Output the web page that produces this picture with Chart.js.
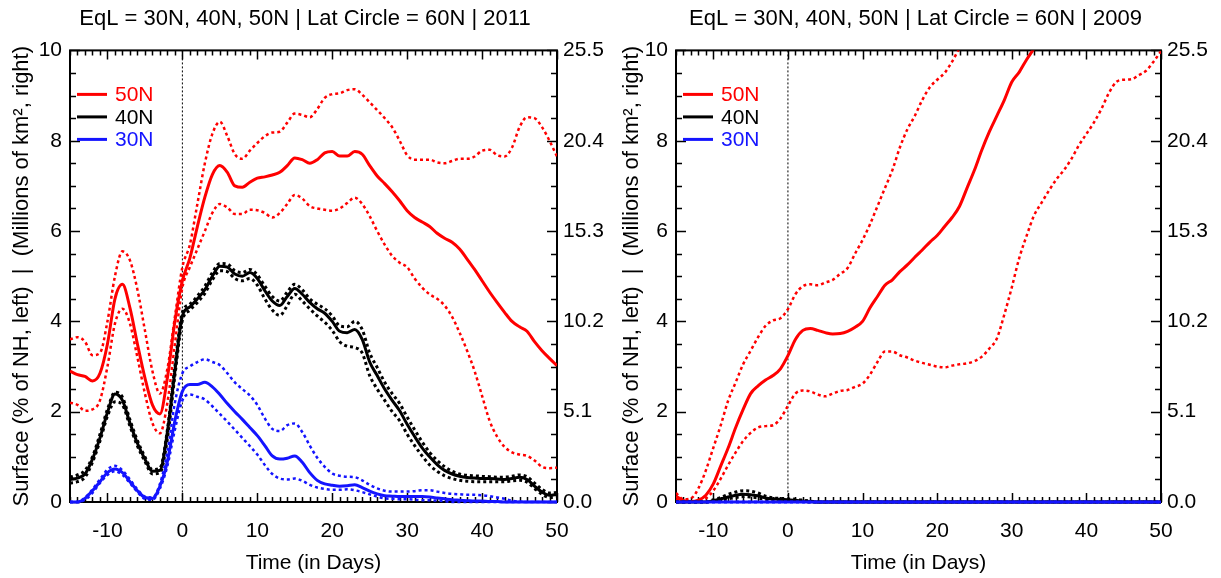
<!DOCTYPE html>
<html>
<head>
<meta charset="utf-8">
<title>EqL surface 2011 / 2009</title>
<script src="https://cdn.jsdelivr.net/npm/chart.js@4.4.1/dist/chart.umd.min.js"></script>
<style>
	body { margin:0; background:#fff; }
	#wrap { position:relative; width:1221px; height:578px; }
	canvas { position:absolute; top:0; }
</style>
</head>
<body>
<div id="wrap">
	<canvas id="chart_2011" width="610" height="578" style="left:0px"></canvas>
	<canvas id="chart_2009" width="611" height="578" style="left:610px"></canvas>
</div>
<script>
// eje x: dias (-15 .. 50)
var days = [-15,-14,-13,-12,-11,-10,-9,-8,-7,-6,-5,-4,-3,-2,-1,0,
	1,2,3,4,5,6,7,8,9,10,11,12,13,14,15,16,17,18,19,20,
	21,22,23,24,25,26,27,28,29,30,31,32,33,34,35,36,37,38,39,40,
	41,42,43,44,45,46,47,48,49,50];

var xTicks = [-10, 0, 10, 20, 30, 40, 50];
var leftTicks = [0, 2, 4, 6, 8, 10];
var rightTicks = [0, 5.1, 10.2, 15.3, 20.4, 25.5];

var latLabels = ['50N', '40N', '30N'];
var latColors = ['#ff0000', '#000000', '#1414ff'];

// ---- 2011 ----
var r11Mid = [2.9,2.82,2.78,2.68,2.85,3.5,4.5,4.82,4.3,3.5,2.75,2.15,1.95,2.75,4.0,4.9,
	5.4,6.1,6.75,7.25,7.45,7.3,7.0,6.97,7.08,7.17,7.2,7.24,7.3,7.45,7.62,7.58,7.5,7.58,7.73,7.76,
	7.66,7.66,7.76,7.7,7.45,7.22,7.05,6.87,6.67,6.45,6.3,6.2,6.1,5.95,5.84,5.75,5.6,5.38,5.15,4.9,
	4.65,4.42,4.2,4.0,3.88,3.78,3.55,3.35,3.18,3.02];
var r11Hi = [3.6,3.65,3.55,3.25,3.3,4.0,5.0,5.55,5.35,4.7,3.8,2.9,2.4,2.95,4.1,5.2,
	5.7,6.6,7.5,8.15,8.42,8.1,7.7,7.6,7.78,7.95,8.1,8.18,8.2,8.4,8.6,8.57,8.52,8.7,8.95,9.03,
	9.05,9.12,9.14,9.02,8.85,8.68,8.5,8.3,8.0,7.68,7.58,7.58,7.58,7.52,7.5,7.55,7.6,7.6,7.65,7.78,
	7.8,7.68,7.65,7.85,8.3,8.52,8.5,8.3,8.0,7.65];
var r11Lo = [2.2,2.15,2.02,2.05,2.25,3.0,3.95,4.28,3.95,3.2,2.4,1.75,1.52,2.2,3.5,4.75,
	5.2,5.6,6.0,6.4,6.6,6.52,6.38,6.38,6.47,6.46,6.4,6.3,6.4,6.6,6.8,6.72,6.55,6.5,6.47,6.45,
	6.5,6.62,6.74,6.6,6.33,6.0,5.7,5.45,5.3,5.2,4.95,4.75,4.6,4.5,4.35,4.1,3.75,3.35,2.9,2.35,
	1.8,1.45,1.22,1.1,1.05,1.02,0.92,0.78,0.75,0.76];

var k11Mid = [0.5,0.53,0.62,0.95,1.42,1.98,2.39,2.25,1.75,1.3,0.95,0.68,0.7,1.55,2.9,4.12,
	4.32,4.5,4.7,5.0,5.22,5.2,5.05,5.0,5.08,4.95,4.68,4.45,4.35,4.55,4.73,4.6,4.42,4.28,4.18,4.0,
	3.78,3.75,3.82,3.6,3.1,2.8,2.5,2.25,2.02,1.72,1.45,1.2,1.0,0.83,0.7,0.62,0.57,0.54,0.53,0.52,
	0.52,0.51,0.5,0.52,0.55,0.5,0.35,0.22,0.15,0.17];
var k11Hi = [0.55,0.6,0.7,1.0,1.5,2.05,2.43,2.32,1.82,1.36,1.0,0.72,0.75,1.6,3.0,4.2,
	4.38,4.56,4.78,5.08,5.28,5.27,5.12,5.08,5.15,5.03,4.78,4.55,4.45,4.65,4.82,4.7,4.5,4.38,4.28,4.12,
	3.9,3.88,4.0,3.82,3.3,2.98,2.65,2.4,2.18,1.88,1.6,1.33,1.1,0.92,0.78,0.68,0.62,0.59,0.58,0.57,
	0.56,0.55,0.55,0.57,0.6,0.56,0.42,0.28,0.2,0.21];
var k11Lo = [0.42,0.45,0.55,0.88,1.35,1.9,2.22,2.15,1.68,1.24,0.9,0.62,0.65,1.4,2.8,4.02,
	4.25,4.42,4.62,4.92,5.12,5.1,4.95,4.9,4.95,4.8,4.5,4.25,4.13,4.35,4.6,4.45,4.28,4.12,3.98,3.8,
	3.55,3.45,3.42,3.3,2.8,2.5,2.25,2.0,1.8,1.5,1.25,1.02,0.82,0.68,0.58,0.52,0.48,0.46,0.45,0.45,
	0.45,0.45,0.45,0.47,0.48,0.44,0.3,0.17,0.1,0.12];

var b11Mid = [0,0,0.08,0.25,0.45,0.65,0.73,0.65,0.45,0.25,0.1,0.08,0.35,0.9,1.8,2.45,
	2.6,2.6,2.65,2.55,2.38,2.18,2.0,1.83,1.65,1.47,1.25,1.02,0.95,0.97,1.02,0.88,0.65,0.48,0.4,0.37,
	0.35,0.36,0.38,0.32,0.24,0.18,0.14,0.13,0.12,0.12,0.12,0.12,0.11,0.09,0.07,0.05,0.04,0.03,0.02,0.02,
	0.01,0.01,0,0,0,0,0,0,0,0];
var b11Hi = [0,0,0.1,0.28,0.5,0.72,0.8,0.7,0.5,0.28,0.12,0.1,0.4,1.1,2.2,2.85,
	3.0,3.1,3.16,3.1,3.03,2.85,2.65,2.5,2.36,2.15,1.85,1.62,1.57,1.7,1.74,1.55,1.25,0.98,0.78,0.63,
	0.58,0.56,0.55,0.48,0.38,0.3,0.25,0.23,0.23,0.23,0.24,0.26,0.26,0.23,0.2,0.18,0.17,0.16,0.16,0.15,
	0.13,0.1,0.07,0.03,0.01,0,0,0,0,0];
var b11Lo = [0,0,0.05,0.2,0.42,0.6,0.68,0.6,0.42,0.22,0.07,0.05,0.3,0.8,1.6,2.25,
	2.38,2.33,2.27,2.12,1.95,1.78,1.6,1.42,1.24,1.05,0.82,0.62,0.52,0.5,0.52,0.47,0.38,0.32,0.29,0.27,
	0.27,0.28,0.26,0.22,0.17,0.12,0.08,0.07,0.06,0.06,0.05,0.04,0.04,0.03,0.02,0,0,0,0,0,
	0,0,0,0,0,0,0,0,0,0];

// ---- 2009 ----
var r09Mid = [0.13,0.03,0.01,0.04,0.15,0.4,0.8,1.2,1.65,2.05,2.4,2.57,2.7,2.8,2.95,3.24,
	3.6,3.8,3.84,3.8,3.75,3.72,3.73,3.78,3.87,4.0,4.3,4.55,4.8,4.92,5.1,5.25,5.42,5.58,5.75,5.9,
	6.1,6.3,6.55,6.95,7.35,7.8,8.2,8.55,8.9,9.3,9.52,9.8,10.05,10.35,null,null,null,null,null,null,
	null,null,null,null,null,null,null,null,null,null];
var r09Hi = [0.2,0.06,0.08,0.3,0.7,1.2,1.7,2.25,2.65,3.05,3.35,3.65,3.9,4.02,4.07,4.27,
	4.6,4.78,4.82,4.8,4.86,4.92,5.05,5.18,5.5,5.8,6.15,6.55,6.95,7.35,7.85,8.25,8.55,8.9,9.18,9.35,
	9.5,9.75,10.05,10.3,null,null,null,null,null,null,null,null,null,null,null,null,null,null,null,null,
	null,null,null,null,null,null,null,null,null,null];
var r09Lo = [0.06,0.02,0,0.02,0.08,0.25,0.52,0.82,1.1,1.35,1.53,1.65,1.68,1.7,1.85,2.13,
	2.4,2.47,2.45,2.38,2.34,2.4,2.46,2.48,2.55,2.62,2.82,3.1,3.33,3.33,3.25,3.2,3.13,3.08,3.04,3.0,
	2.98,3.02,3.05,3.07,3.12,3.22,3.4,3.62,4.15,4.75,5.4,5.9,6.35,6.63,6.9,7.15,7.35,7.6,7.9,8.15,
	8.4,8.7,9.05,9.3,9.35,9.36,9.45,9.55,9.75,9.98];

var k09Mid = [0,0,0,0,0,0.03,0.07,0.11,0.15,0.17,0.16,0.14,0.09,0.07,0.06,0.05,
	0.04,0.02,0.01,0,0,0,0,0,0,0,0,0,0,0,0,0,0,0,0,0,
	0,0,0,0,0,0,0,0,0,0,0,0,0,0,0,0,0,0,0,0,
	0,0,0,0,0,0,0,0,0,0];
var k09Hi = [0,0,0,0,0,0.05,0.1,0.17,0.22,0.25,0.24,0.2,0.13,0.09,0.08,0.07,
	0.06,0.04,0.02,0,0,0,0,0,0,0,0,0,0,0,0,0,0,0,0,0,
	0,0,0,0,0,0,0,0,0,0,0,0,0,0,0,0,0,0,0,0,
	0,0,0,0,0,0,0,0,0,0];
var k09Lo = [0,0,0,0,0,0.02,0.04,0.07,0.1,0.12,0.11,0.09,0.06,0.05,0.04,0.03,
	0.02,0.01,0,0,0,0,0,0,0,0,0,0,0,0,0,0,0,0,0,0,
	0,0,0,0,0,0,0,0,0,0,0,0,0,0,0,0,0,0,0,0,
	0,0,0,0,0,0,0,0,0,0];
var b09Mid = [0,0,0,0,0,0,0,0,0,0,0,0,0,0,0,0,
	0,0,0,0,0,0,0,0,0,0,0,0,0,0,0,0,0,0,0,0,
	0,0,0,0,0,0,0,0,0,0,0,0,0,0,0,0,0,0,0,0,
	0,0,0,0,0,0,0,0,0,0];

Chart.defaults.font.family = "'Liberation Sans', Arial, Helvetica, sans-serif";
Chart.defaults.font.size = 21;
Chart.defaults.color = '#000';

function linea(vals, color, dotted) {
	return {
		data: vals.map(function(v, i){ return {x: days[i], y: v}; }),
		borderColor: color,
		borderWidth: dotted ? (color == '#000000' ? 3 : 2.5) : 3,
		borderDash: dotted ? [3, 3] : [],
		pointRadius: 0,
		fill: false,
		tension: 0.4,
		cubicInterpolationMode: 'monotone',
		spanGaps: false,
		yAxisID: 'yL',
		clip: {left: 0, top: 0, right: 0, bottom: 3}
	};
}

// marco y ticks hacia adentro (debajo de las lineas), punteada en el dia 0, leyenda arriba
var marcoPlugin = {
	id: 'marco',
	beforeDatasetsDraw: function(chart) {
		var ctx = chart.ctx, a = chart.chartArea;
		var sx = chart.scales.x, sy = chart.scales.yL;
		var x0 = sx.getPixelForValue(0);
		ctx.save();
		ctx.strokeStyle = '#000';
		ctx.lineWidth = 1;
		ctx.setLineDash([2, 2]);
		ctx.beginPath();
		ctx.moveTo(x0, a.top);
		ctx.lineTo(x0, a.bottom);
		ctx.stroke();
		ctx.setLineDash([]);

		ctx.lineWidth = 1.5;
		ctx.beginPath();
		for (var d = -15; d <= 50; d++) {
			var px = Math.round(sx.getPixelForValue(d)) + 0.5;
			var len = (d % 10 == 0) ? 9 : 5;
			ctx.moveTo(px, a.bottom); ctx.lineTo(px, a.bottom - len);
			ctx.moveTo(px, a.top); ctx.lineTo(px, a.top + len);
		}
		for (var v = 0; v <= 10; v += 0.5) {
			var py = Math.round(sy.getPixelForValue(v)) + 0.5;
			var l2 = (v % 2 == 0) ? 10 : 6;
			ctx.moveTo(a.left, py); ctx.lineTo(a.left + l2, py);
			ctx.moveTo(a.right, py); ctx.lineTo(a.right - l2, py);
		}
		ctx.stroke();
		ctx.lineWidth = 2;
		ctx.strokeRect(a.left, a.top, a.right - a.left, a.bottom - a.top);
		ctx.restore();
	},
	afterDraw: function(chart) {
		var ctx = chart.ctx, a = chart.chartArea;
		ctx.save();
		ctx.font = "21px 'Liberation Sans', Arial, sans-serif";
		ctx.textBaseline = 'middle';
		for (var i = 0; i < latLabels.length; i++) {
			var ly = a.top + 44 + i * 22.5;
			ctx.strokeStyle = latColors[i];
			ctx.lineWidth = 3;
			ctx.beginPath();
			ctx.moveTo(a.left + 7, ly);
			ctx.lineTo(a.left + 37, ly);
			ctx.stroke();
			ctx.fillStyle = latColors[i];
			ctx.fillText(latLabels[i], a.left + 45, ly + 1);
		}
		ctx.restore();
	}
};

function grafico(idCanvas, titulo, series, anchoIzq, anchoDer) {
	var datos = {
		type: 'line',
		data: { datasets: series },
		options: {
			responsive: false,
			animation: false,
			events: [],
			layout: { padding: 0 },
			plugins: {
				legend: { display: false },
				tooltip: { enabled: false },
				title: {
					display: true,
					text: titulo,
					color: '#000',
					font: { size: 22, weight: 'normal' },
					padding: { top: 6, bottom: 18 }
				}
			},
			scales: {
				x: {
					type: 'linear',
					min: -15, max: 50,
					afterBuildTicks: function(s){ s.ticks = xTicks.map(function(v){ return {value: v}; }); },
					afterFit: function(s){ s.height = 76; },
					ticks: { padding: 17, autoSkip: false, maxRotation: 0, color: '#000' },
					grid: { display: false, drawTicks: false },
					border: { display: false },
					title: { display: true, text: 'Time (in Days)', color: '#000', font: { size: 21 }, padding: { top: 0, bottom: 2 } }
				},
				yL: {
					type: 'linear',
					position: 'left',
					min: 0, max: 10,
					afterBuildTicks: function(s){ s.ticks = leftTicks.map(function(v){ return {value: v}; }); },
					afterFit: function(s){ s.width = anchoIzq; },
					ticks: { padding: 8, color: '#000' },
					grid: { display: false, drawTicks: false },
					border: { display: false },
					title: { display: true, text: 'Surface (% of NH, left)  |  (Millions of km\u00b2, right)', color: '#000', font: { size: 22 }, padding: { top: 9, bottom: 0 } }
				},
				yR: {
					type: 'linear',
					position: 'right',
					min: 0, max: 25.5,
					afterBuildTicks: function(s){ s.ticks = rightTicks.map(function(v){ return {value: v}; }); },
					afterFit: function(s){ s.width = anchoDer; },
					ticks: { padding: 6, color: '#000', callback: function(v){ return Number(v).toFixed(1); } },
					grid: { display: false, drawTicks: false },
					border: { display: false }
				}
			}
		},
		plugins: [marcoPlugin]
	};
	var canvas = document.getElementById(idCanvas).getContext('2d');
	return new Chart(canvas, datos);
}

// el primer dataset queda arriba: azul, luego negro, luego rojo
var series2011 = [
	linea(b11Mid, latColors[2], false), linea(b11Hi, latColors[2], true), linea(b11Lo, latColors[2], true),
	linea(k11Mid, latColors[1], false), linea(k11Hi, latColors[1], true), linea(k11Lo, latColors[1], true),
	linea(r11Mid, latColors[0], false), linea(r11Hi, latColors[0], true), linea(r11Lo, latColors[0], true)
];
var series2009 = [
	linea(b09Mid, latColors[2], false), linea(b09Mid, latColors[2], true), linea(b09Mid, latColors[2], true),
	linea(k09Mid, latColors[1], false), linea(k09Hi, latColors[1], true), linea(k09Lo, latColors[1], true),
	linea(r09Mid, latColors[0], false), linea(r09Hi, latColors[0], true), linea(r09Lo, latColors[0], true)
];

window.graf2011 = grafico('chart_2011', 'EqL = 30N, 40N, 50N | Lat Circle = 60N | 2011', series2011, 70, 53);
window.graf2009 = grafico('chart_2009', 'EqL = 30N, 40N, 50N | Lat Circle = 60N | 2009', series2009, 66, 60);
</script>
</body>
</html>
